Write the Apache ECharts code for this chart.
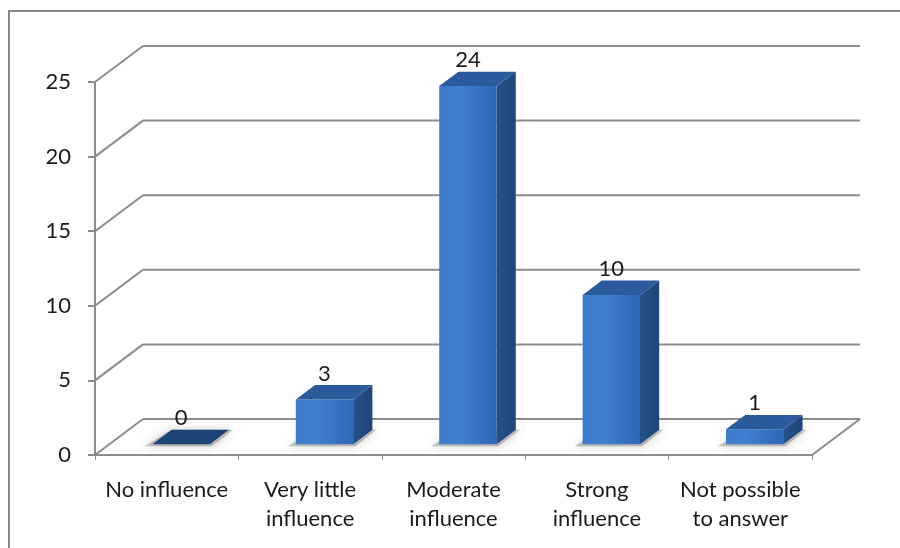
<!DOCTYPE html>
<html style="height: 100%">
<head>
    <meta charset="utf-8">
    <script type="text/javascript" src="https://cdn.jsdelivr.net/npm/echarts@6/dist/echarts.min.js"></script>
</head>
<body style="height: 100%; margin: 0; background: #fff">
<div id="frame" style="position:absolute;left:8px;top:10px;width:900px;height:536px;border-left:2px solid #8a8a8a;border-top:2px solid #8a8a8a;border-bottom:1px solid #e4e4e4"></div>
<div id="container" style="position:absolute;left:0;top:0;height: 548px;width: 900px"></div>
<script type="text/javascript">
    var categories = ['No influence', 'Very little\ninfluence', 'Moderate\ninfluence', 'Strong\ninfluence', 'Not possible\nto answer'];
    var values = [0, 3, 24, 10, 1];
    var yTicks = [0, 5, 10, 15, 20, 25];

    // 3d depth of the floor / wall, and where the bar sits inside it
    var DX = 48, DY = 36;
    var D0 = 0.3, D1 = 0.7;
    var BAR_W = 0.4;

    var dom = document.getElementById("container");
    var myChart = echarts.init(dom);

    function shift(p, d) {
        return [p[0] + DX * d, p[1] - DY * d];
    }

    function renderWalls(params, api) {
        var v = api.value(0);
        var bw = api.size([1, 0])[0];
        var c0 = api.coord([0, v]);
        var c1 = api.coord([categories.length - 1, v]);
        var x0 = c0[0] - bw / 2, x1 = c1[0] + bw / 2, y = c0[1];
        var style = {stroke: '#8c8c8c', lineWidth: 2};
        var children = [
            {type: 'line', shape: {x1: x0, y1: y, x2: x0 + DX, y2: y - DY}, style: style},
            {type: 'line', shape: {x1: x0 + DX, y1: y - DY, x2: x1 + DX, y2: y - DY}, style: style}
        ];
        if (v === 0) {
            children.push({type: 'line', shape: {x1: x1, y1: y, x2: x1 + DX, y2: y - DY}, style: style});
        }
        return {type: 'group', children: children};
    }

    function renderBar(params, api) {
        var i = api.value(0), v = api.value(1);
        var bw = api.size([1, 0])[0] * BAR_W;
        var top = api.coord([i, v]);
        var base = api.coord([i, 0]);
        var xl = top[0] - bw / 2, xr = top[0] + bw / 2;
        // front face corners
        var fbl = shift([xl, base[1]], D0), fbr = shift([xr, base[1]], D0);
        var ftl = shift([xl, top[1]], D0), ftr = shift([xr, top[1]], D0);
        var d = D1 - D0;
        var bbr = shift(fbr, d), btl = shift(ftl, d), btr = shift(ftr, d);
        var children = [];
        // soft shadow on the floor
        children.push({
            type: 'polygon',
            shape: {points: [[fbl[0] - 8, fbl[1] + 2], [fbr[0] + 2, fbr[1] + 2], [bbr[0] + 4, bbr[1]], [bbr[0] - bw, bbr[1]]]},
            style: {fill: 'rgba(110,110,110,0.4)', shadowBlur: 10, shadowColor: 'rgba(80,80,80,0.7)'},
            z2: 0
        });
        if (v > 0) {
            children.push({
                type: 'polygon',
                shape: {points: [fbl, fbr, ftr, ftl]},
                style: {fill: new echarts.graphic.LinearGradient(0, 0, 1, 0, [
                    {offset: 0, color: '#3c7acb'}, {offset: 0.35, color: '#3f7fd1'}, {offset: 1, color: '#2e68b5'}])},
                z2: 2
            });
            children.push({
                type: 'polygon',
                shape: {points: [fbr, bbr, btr, ftr]},
                style: {fill: new echarts.graphic.LinearGradient(0, 0, 1, 0, [
                    {offset: 0, color: '#25528b'}, {offset: 1, color: '#1f4576'}])},
                z2: 2
            });
        }
        children.push({
            type: 'polygon',
            shape: {points: [ftl, ftr, btr, btl]},
            style: {fill: v > 0 ? '#2b5b9c' : '#1e4477'},
            z2: 3
        });
        children.push({
            type: 'text',
            x: (ftl[0] + ftr[0]) / 2,
            y: ftl[1] - 26,
            style: {text: String(v), fill: '#1a1a1a', font: '22px Lato', align: 'center', verticalAlign: 'middle'},
            z2: 4
        });
        return {type: 'group', children: children};
    }

    var option = {
        animation: false,
        grid: {left: 95, right: 88, top: 82, bottom: 93},
        xAxis: {
            type: 'category',
            data: categories,
            axisLine: {lineStyle: {color: '#8c8c8c', width: 2}},
            axisTick: {show: true, length: 5, lineStyle: {color: '#8c8c8c', width: 1}},
            axisLabel: {color: '#1a1a1a', fontFamily: 'Lato', fontSize: 22, lineHeight: 29, margin: 20, interval: 0}
        },
        yAxis: {
            type: 'value',
            min: 0, max: 25, interval: 5,
            axisLine: {show: true, lineStyle: {color: '#8c8c8c', width: 2}},
            axisTick: {show: true, length: 7, lineStyle: {color: '#8c8c8c', width: 2}},
            axisLabel: {color: '#1a1a1a', fontFamily: 'Lato', fontSize: 22, margin: 24},
            splitLine: {show: false}
        },
        series: [
            {
                type: 'custom',
                renderItem: renderWalls,
                data: yTicks.map(function (t) { return [t]; }),
                encode: {y: 0},
                silent: true,
                z: 1
            },
            {
                type: 'custom',
                renderItem: renderBar,
                data: values.map(function (v, i) { return [i, v]; }),
                encode: {x: 0, y: 1},
                z: 2
            }
        ]
    };
    myChart.setOption(option);
</script>
</body>
</html>
